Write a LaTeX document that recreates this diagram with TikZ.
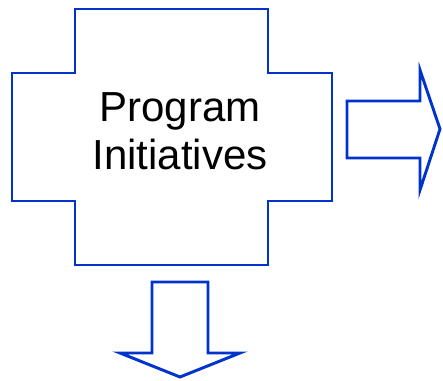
\documentclass[tikz,border=0pt]{standalone}
\usepackage{fontspec}
\setmainfont{Liberation Sans}
\definecolor{crossBlue}{RGB}{0,51,204}
\definecolor{crossText}{RGB}{0,0,0}

\begin{document}
\begin{tikzpicture}[x=1pt,y=-1pt,
    outline/.style={draw=crossBlue,line width=2.9pt,fill=white}]
  \useasboundingbox (0,0) rectangle (443,380);
  % cross
  \draw[outline] (75,9) -- (268,9) -- (268,73) -- (332,73) -- (332,201)
    -- (268,201) -- (268,265) -- (75,265) -- (75,201) -- (12,201)
    -- (12,73) -- (75,73) -- cycle;
  \node[align=center,text=crossText,font=\fontsize{42}{48}\selectfont]
    (label) at (180,131) {Program\\Initiatives};
  % arrow to the right
  \draw[outline] (347,101) -- (420,101) -- (420,70) -- (440,129)
    -- (420,190) -- (420,158) -- (347,158) -- cycle;
  % arrow down
  \draw[outline] (152,282) -- (208,282) -- (208,353) -- (240,353)
    -- (180,377) -- (120,353) -- (152,353) -- cycle;
\end{tikzpicture}
\end{document}
